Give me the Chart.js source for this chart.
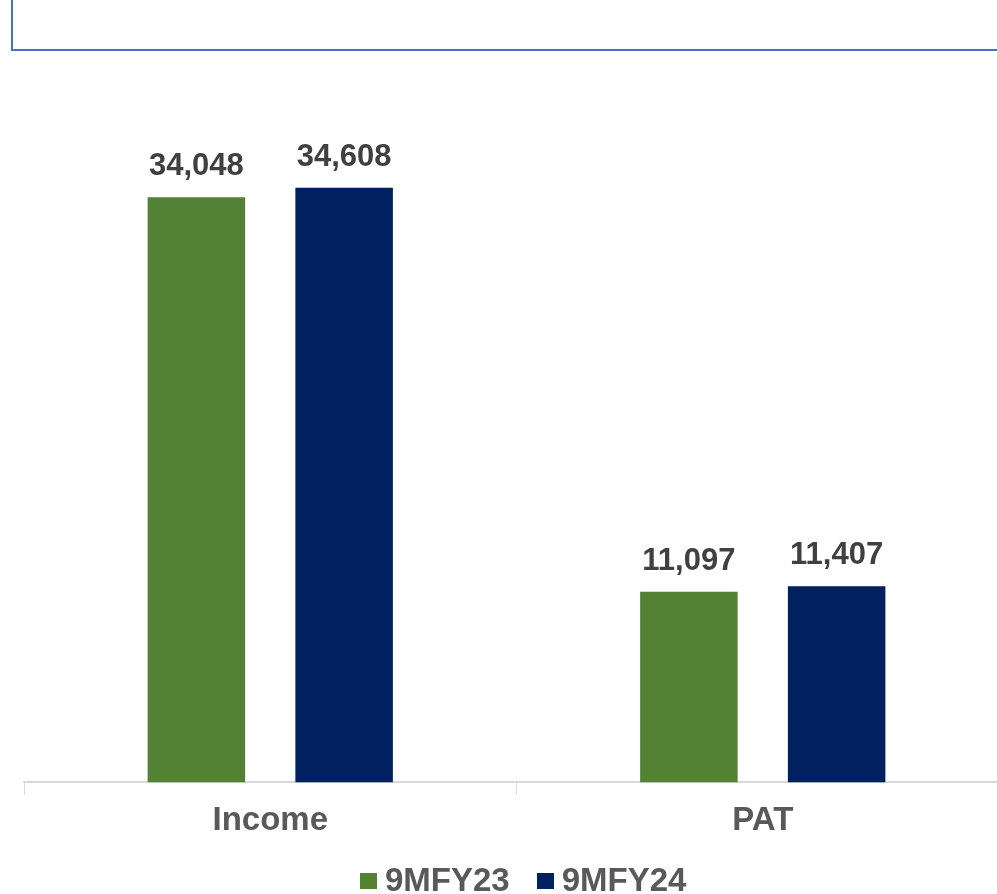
<html lang="en">
<head>
<meta charset="UTF-8">
<title>Income and PAT</title>
<script src="https://cdn.jsdelivr.net/npm/chart.js"></script>
<style>
  body {
      margin: 0;
      background: #fff;
      overflow: hidden;
      font-family: 'Liberation Sans', Arial, sans-serif;
  }
  #topBox {
      position: absolute;
      left: 11px;
      top: -10px;
      width: 1010px;
      height: 61px;
      border: 2px solid #4472c4;
      box-sizing: border-box;
  }
  #wrap {
      position: absolute;
      left: 0;
      top: 0;
  }
  #legend {
      position: absolute;
      left: 360px;
      top: 863px;
      display: flex;
      gap: 27px;
      font-size: 33px;
      font-weight: bold;
      color: #595959;
      line-height: 33px;
      white-space: nowrap;
  }
  .item {
      display: flex;
      align-items: center;
      gap: 8px;
  }
  .swatch {
      width: 17px;
      height: 16px;
      margin-top: 2px;
  }
</style>
</head>
<body>
<div id="topBox"></div>
<div id="wrap">
  <canvas id="chart" width="1044" height="894"></canvas>
</div>
<div id="legend"></div>
<script>
const categories = ['Income', 'PAT'];
const seriesNames = ['9MFY23', '9MFY24'];
const fy23 = [34048, 11097];
const fy24 = [34608, 11407];
const colors = ['#548235', '#002060'];

const FONT = '"Liberation Sans", Arial, sans-serif';

// draws the value above each bar
const valueLabels = {
    id: 'valueLabels',
    afterDatasetsDraw(chart) {
        const c = chart.ctx;
        c.save();
        c.font = 'bold 31px ' + FONT;
        c.fillStyle = '#404040';
        c.textAlign = 'center';
        c.textBaseline = 'alphabetic';
        chart.data.datasets.forEach((ds, i) => {
            chart.getDatasetMeta(i).data.forEach((bar, j) => {
                c.fillText(ds.data[j].toLocaleString('en-US'), bar.x, bar.y - 22);
            });
        });
        c.restore();
    }
};

const chart = new Chart(document.getElementById('chart'), {
    type: 'bar',
    data: {
        labels: categories,
        datasets: [
            { label: seriesNames[0], data: fy23, backgroundColor: colors[0] },
            { label: seriesNames[1], data: fy24, backgroundColor: colors[1] }
        ]
    },
    options: {
        responsive: false,
        animation: false,
        categoryPercentage: 0.6,
        barPercentage: 0.66,
        layout: { padding: { left: 24, right: 35, top: 95, bottom: 46 } },
        plugins: {
            legend: { display: false },
            tooltip: { enabled: false }
        },
        scales: {
            x: {
                grid: { drawOnChartArea: false, drawTicks: true, tickLength: 12, color: '#d9d9d9', offset: true },
                border: { color: '#d9d9d9', width: 2 },
                ticks: {
                    color: '#595959',
                    padding: 7,
                    font: { size: 33, weight: 'bold', family: FONT }
                }
            },
            y: {
                display: false,
                min: 0,
                max: 40000
            }
        }
    },
    plugins: [valueLabels]
});

// legend built from the chart's datasets
const legend = document.getElementById('legend');
chart.data.datasets.forEach(ds => {
    const item = document.createElement('div');
    item.className = 'item';
    const sw = document.createElement('div');
    sw.className = 'swatch';
    sw.style.background = ds.backgroundColor;
    const txt = document.createElement('span');
    txt.textContent = ds.label;
    item.appendChild(sw);
    item.appendChild(txt);
    legend.appendChild(item);
});
</script>
</body>
</html>
